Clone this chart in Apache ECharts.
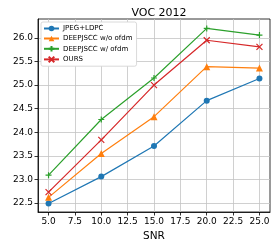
<!DOCTYPE html>
<html><head><meta charset="utf-8">
<script src="https://cdn.jsdelivr.net/npm/echarts@6/dist/echarts.min.js"></script>
<style>html,body{margin:0;padding:0;background:#fff}#c{width:277px;height:240px}</style>
</head><body><div id="c"></div>
<script>
const snr = [5, 10, 15, 20, 25];
const jpegLdpc = [22.49, 23.06, 23.71, 24.67, 25.14];
const deepWo = [22.62, 23.55, 24.33, 25.39, 25.36];
const deepW = [23.09, 24.27, 25.15, 26.20, 26.06];
const ours = [22.73, 23.84, 25.00, 25.95, 25.81];
const xTicks = [5, 7.5, 10, 12.5, 15, 17.5, 20, 22.5, 25];
const yTicks = [22.5, 23.0, 23.5, 24.0, 24.5, 25.0, 25.5, 26.0];
const names = ['JPEG+LDPC', 'DEEPJSCC w/o ofdm', 'DEEPJSCC w/ ofdm', 'OURS'];
const colors = ['#1f77b4', '#ff7f0e', '#2ca02c', '#d62728'];
const symbols = ['circle', 'triangle', 'path://M5,0L5,10M0,5L10,5', 'path://M0,0L10,10M0,10L10,0'];
const sizes = [6, 7, 6, 6];
const datas = [jpegLdpc, deepWo, deepW, ours];
const font = 'DejaVu Sans';
const chart = echarts.init(document.getElementById('c'));
chart.setOption({
  animation: false,
  title: {text: 'VOC 2012', left: 154, top: 3, textAlign: 'center',
    textStyle: {fontFamily: font, fontSize: 11, fontWeight: 'normal', color: '#000'}},
  grid: {left: 38, right: 7, top: 19, bottom: 28, show: true, borderColor: '#000', borderWidth: 0.8,
    containLabel: false, outerBoundsMode: 'none'},
  legend: {
    orient: 'vertical', left: 41, top: 22, itemWidth: 15, itemHeight: 7, itemGap: 3,
    padding: [3, 4, 3, 2], borderColor: '#d0d0d0', borderWidth: 0.8, borderRadius: 2, backgroundColor: '#fff',
    textStyle: {fontFamily: font, fontSize: 7, color: '#000', padding: [0, 0, 0, -1]},
    data: names
  },
  xAxis: {
    type: 'value', min: 4, max: 26, name: 'SNR', nameLocation: 'middle', nameGap: 18,
    nameTextStyle: {fontFamily: font, fontSize: 10.5, color: '#000'},
    axisLine: {lineStyle: {color: '#000', width: 0.8}},
    axisTick: {show: true, length: 3.5, customValues: xTicks, lineStyle: {color: '#000', width: 0.8}},
    axisLabel: {customValues: xTicks, margin: 5, fontFamily: font, fontSize: 9, color: '#000',
      formatter: v => Number(v).toFixed(1)},
    splitLine: {show: true, customValues: xTicks, lineStyle: {color: '#c4c4c4', width: 0.8}}
  },
  yAxis: {
    type: 'value', min: 22.31, max: 26.4, name: 'PSNR', nameLocation: 'middle', nameGap: 28,
    nameTextStyle: {fontFamily: font, fontSize: 10.5, color: '#000'},
    axisLine: {show: true, lineStyle: {color: '#000', width: 0.8}},
    axisTick: {show: true, length: 3.5, customValues: yTicks, lineStyle: {color: '#000', width: 0.8}},
    axisLabel: {customValues: yTicks, margin: 5, fontFamily: font, fontSize: 9, color: '#000',
      formatter: v => Number(v).toFixed(1)},
    splitLine: {show: true, customValues: yTicks, lineStyle: {color: '#c4c4c4', width: 0.8}}
  },
  series: names.map((n, i) => ({
    name: n, type: 'line', data: snr.map((x, j) => [x, datas[i][j]]),
    symbol: symbols[i], symbolSize: sizes[i], showSymbol: true,
    lineStyle: {color: colors[i], width: 1.2},
    itemStyle: {color: colors[i], borderColor: colors[i], borderWidth: (i >= 2 ? 1.2 : 0)},
    emphasis: {disabled: true}
  }))
});
</script></body></html>
